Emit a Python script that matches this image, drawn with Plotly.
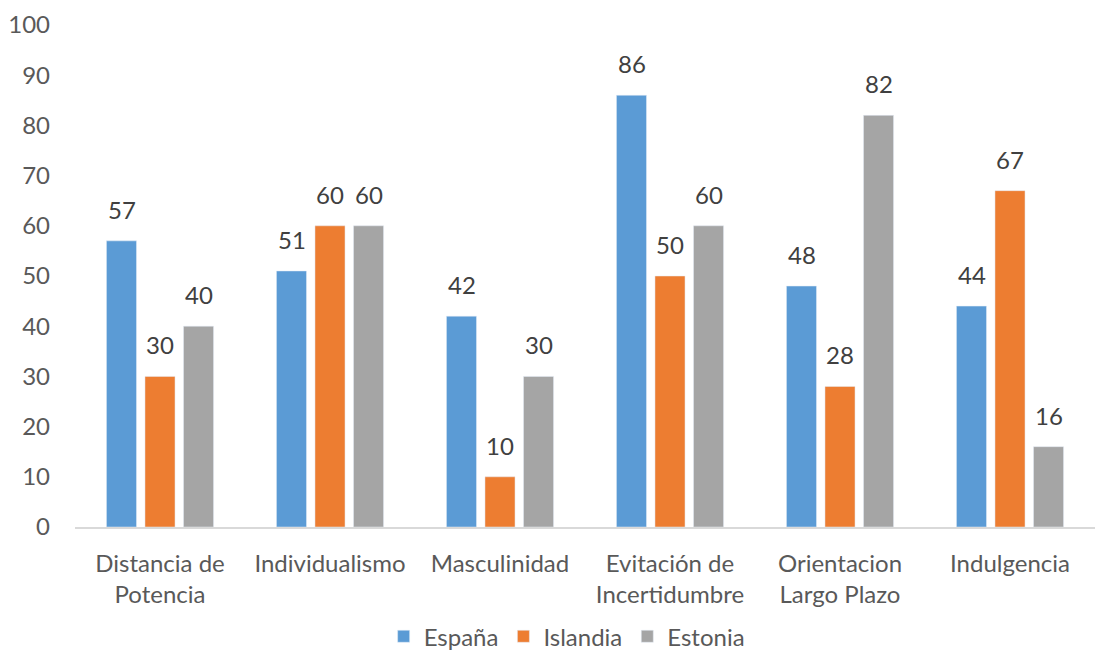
import plotly.graph_objects as go

categories = ["Distancia de<br>Potencia", "Individualismo", "Masculinidad",
              "Evitación de<br>Incertidumbre", "Orientacion<br>Largo Plazo", "Indulgencia"]
espana = [57, 51, 42, 86, 48, 44]
islandia = [30, 60, 10, 50, 28, 67]
estonia = [40, 60, 30, 60, 82, 16]

series = [("España", espana, "#5B9BD5"), ("Islandia", islandia, "#ED7D31"), ("Estonia", estonia, "#A5A5A5")]

FS = 24
fig = go.Figure()
for name, vals, col in series:
    fig.add_trace(go.Bar(x=categories, y=vals, name=name, marker_color=col))

# value labels above bars
pitch = 38.5
for i, (name, vals, col) in enumerate(series):
    for c, v in zip(categories, vals):
        fig.add_annotation(x=c, y=v, xref="x", yref="y", text=str(v), showarrow=False,
                           xshift=(i - 1) * pitch, yanchor="bottom", yshift=15,
                           font=dict(size=FS, color="#404040"))

fig.update_layout(
    width=1101, height=651,
    margin=dict(l=75, r=6, t=25, b=124, autoexpand=False),
    paper_bgcolor="white", plot_bgcolor="white",
    font=dict(family="Lato, Open Sans, sans-serif", size=FS, color="#595959"),
    barmode="group", bargap=0.32, bargroupgap=0.22,
    showlegend=True,
    legend=dict(orientation="h", x=0.482, xanchor="center", yref="container", y=0.022,
                yanchor="middle", font=dict(size=FS, color="#595959"), traceorder="normal"),
)
fig.update_yaxes(range=[0, 100], dtick=10, showgrid=False, zeroline=False, showline=False,
                 ticks="", ticklabelstandoff=24, automargin=False,
                 tickfont=dict(size=FS, color="#595959"))
fig.update_xaxes(showline=True, linecolor="#D9D9D9", linewidth=1.5, showgrid=False,
                 ticks="", ticklabelstandoff=14, automargin=False,
                 tickfont=dict(size=FS, color="#595959"))

fig.write_html("out.html")
